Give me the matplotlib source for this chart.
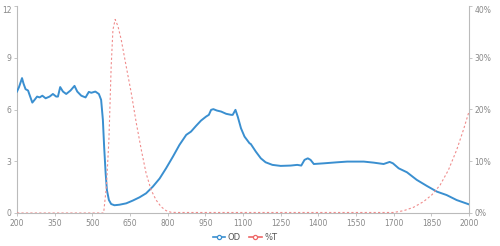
import numpy as np
import matplotlib.pyplot as plt
from matplotlib.lines import Line2D

# OD curve (left axis)
od_x = [200, 208, 220, 226, 234, 244, 250, 261, 270, 280, 290, 301, 314, 330, 343,
        356, 363, 372, 383, 396, 413, 429, 440, 456, 473, 486, 496, 512, 526, 535,
        542, 547, 553, 558, 566, 575, 588, 608, 635, 661, 688, 714, 741, 768, 794,
        821, 847, 874, 893, 913, 933, 953, 964, 973, 982, 996, 1013, 1033, 1053, 1059,
        1070, 1079, 1092, 1106, 1126, 1131, 1151, 1171, 1190, 1217, 1250, 1290, 1316, 1332, 1345,
        1358, 1369, 1382, 1422, 1475, 1515, 1581, 1620, 1660, 1684, 1697, 1720, 1753, 1792, 1832,
        1872, 1911, 1951, 2000]
od_y = [7.04, 7.3, 7.82, 7.5, 7.18, 7.1, 6.85, 6.4, 6.56, 6.75, 6.7, 6.8, 6.65, 6.75, 6.9,
        6.75, 6.75, 7.3, 7.04, 6.9, 7.1, 7.37, 7.04, 6.8, 6.7, 7.02, 6.97, 7.04, 6.9, 6.56,
        5.4, 3.85, 2.3, 1.33, 0.75, 0.52, 0.45, 0.48, 0.56, 0.72, 0.91, 1.14, 1.53, 2.0, 2.6,
        3.27, 3.95, 4.53, 4.72, 5.05, 5.36, 5.59, 5.69, 5.98, 6.02, 5.94, 5.88, 5.75, 5.69, 5.69,
        5.98, 5.59, 4.91, 4.43, 4.04, 4.0, 3.56, 3.17, 2.94, 2.79, 2.73, 2.75, 2.79, 2.75, 3.08,
        3.17, 3.08, 2.84, 2.88, 2.94, 2.98, 2.98, 2.92, 2.84, 2.96, 2.88, 2.59, 2.36, 1.92, 1.57,
        1.24, 1.04, 0.75, 0.5]

# %T curve (right axis)
t_x = [200, 545, 556, 566, 575, 582, 591, 602, 615, 635, 655, 675, 695, 714, 734,
       754, 774, 794, 814, 840, 1000, 1300, 1600, 1700, 1740, 1779, 1819, 1852, 1885,
       1918, 1951, 1978, 2000]
t_y = [0.0, 0.0, 5.1, 14.1, 28.3, 35.4, 37.4, 36.1, 33.5, 28.3, 23.2, 17.4, 12.2, 7.7, 4.45,
       2.5, 1.2, 0.45, 0.13, 0.1, 0.1, 0.1, 0.1, 0.1, 0.45, 1.1, 2.2, 3.5, 5.4,
       8.3, 12.2, 16.1, 19.6]

x_ticks = [200, 350, 500, 650, 800, 950, 1100, 1250, 1400, 1550, 1700, 1850, 2000]
y_ticks = [0, 3, 6, 9, 12]
t_ticks = [0, 10, 20, 30, 40]

blue = '#3a8fd0'
red = '#f08c8c'
axcol = '#bbbbbb'
txtcol = '#888888'

fig = plt.figure(figsize=(5, 2.46), dpi=100)
ax = fig.add_axes([17 / 500, 1 - 213 / 246, 452 / 500, 207 / 246])
ax2 = ax.twinx()

ax.plot(od_x, od_y, color=blue, lw=1.4, label='OD', zorder=3)
ax2.plot(t_x, t_y, color=red, lw=0.8, ls=(0, (2, 2)), label='%T')

ax.set_xlim(200, 2000)
ax.set_ylim(0, 12)
ax2.set_ylim(0, 40)
ax.set_xticks(x_ticks)
ax.set_yticks(y_ticks)
ax2.set_yticks(t_ticks)
ax2.set_yticklabels(['{}%'.format(t) for t in t_ticks])

for a in (ax, ax2):
    a.spines['top'].set_visible(False)
    for s in ('left', 'right', 'bottom'):
        a.spines[s].set_color(axcol)
        a.spines[s].set_linewidth(0.8)
    a.tick_params(colors=axcol, labelcolor=txtcol, labelsize=5.5, length=2.5, width=0.6, pad=1.5)
ax.spines['right'].set_visible(False)
ax2.spines['left'].set_visible(False)
ax2.spines['bottom'].set_visible(False)

# oberstes Label sitzt unter dem Tick wie im Original
ax.get_yticklabels()[-1].set_va('top')
ax2.get_yticklabels()[-1].set_va('top')

hs = [Line2D([], [], color=blue, lw=1.2, marker='o', ms=3, mfc='white', mew=0.9),
      Line2D([], [], color='#ee6666', lw=1.2, marker='o', ms=3, mfc='white', mew=0.9)]
fig.legend(hs, ['OD', '%T'], loc='center', bbox_to_anchor=(0.49, 1 - 237 / 246),
           ncol=2, frameon=False, fontsize=6, labelcolor='#555555',
           handlelength=1.5, handletextpad=0.3, columnspacing=1.0)

fig.savefig('out.png', dpi=100)
